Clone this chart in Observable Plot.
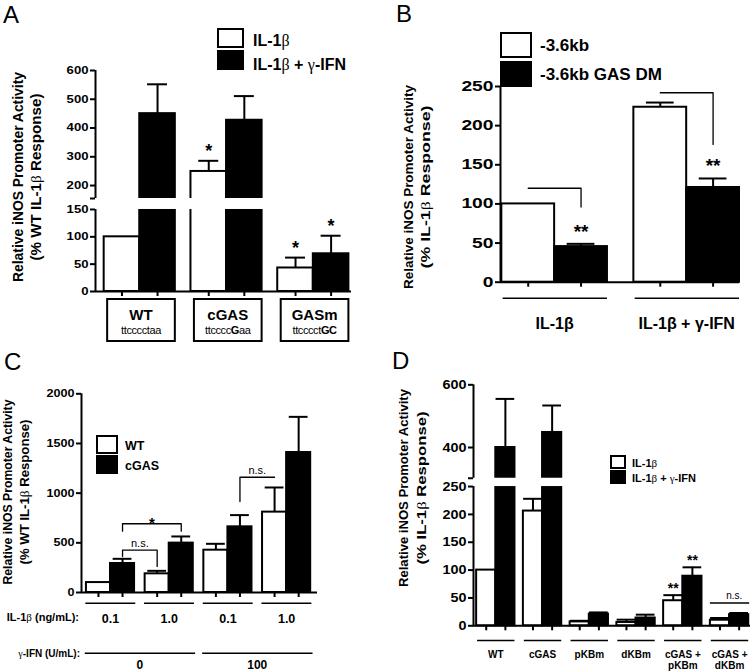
<!DOCTYPE html>
<html><head><meta charset="utf-8">
<script src="https://cdn.jsdelivr.net/npm/d3@7"></script>
<script src="https://cdn.jsdelivr.net/npm/@observablehq/plot@0.6"></script>
<style>
body{margin:0;background:#fff;}
#fig{position:relative;width:754px;height:672px;overflow:hidden;background:#fff;font-family:"Liberation Sans",Arial,sans-serif;}
.panel{position:absolute;}
</style></head><body><div id="fig"></div>
<script>
// ---------------- Panel A data ----------------
const aGroups = ["WT", "cGAS", "GASm"];
const aSeqs = [[["ttcccctaa", 0]], [["ttcccc", 0], ["G", 1], ["aa", 0]], [["ttcccct", 0], ["GC", 1]]];
const aSeries = ["IL-1β", "IL-1β + γ-IFN"];
const aIL = [100, 249, 43];
const aILErr = [0, 37, 19];
const aIFN = [450, 427, 69];
const aIFNErr = [102, 84, 33];
const aStars = [{g: 1, s: 0, label: "*"}, {g: 2, s: 0, label: "*"}, {g: 2, s: 1, label: "*"}];
const aTicks = [0, 50, 100, 150, 200, 300, 400, 500, 600];
const aBreak = {lo: 150, hi: 155};

// ---------------- Panel B data ----------------
const bGroups = ["IL-1β", "IL-1β + γ-IFN"];
const bSeries = ["-3.6kb", "-3.6kb GAS DM"];
const bWT = [100, 223.5];
const bWTErr = [0, 6];
const bDM = [45.5, 121];
const bDMErr = [3.5, 11.5];
const bStars = [{g: 0, s: 1, label: "**"}, {g: 1, s: 1, label: "**"}];
const bBrackets = [
  {a: [0, 0], b: [0, 1], y: 120, dropA: null, dropB: 96, label: ""},
  {a: [1, 0], b: [1, 1], y: 242, dropA: null, dropB: 176, label: ""}
];
const bTicks = [0, 50, 100, 150, 200, 250];

// ---------------- Panel C data ----------------
const cGroups = ["0.1", "1.0", "0.1", "1.0"];
const cIFNGroups = [{label: "0", from: 0, to: 1}, {label: "100", from: 2, to: 3}];
const cSeries = ["WT", "cGAS"];
const cWT = [100, 188, 426, 809];
const cWTErr = [0, 30, 64, 248];
const cGAS = [292, 497, 661, 1409];
const cGASErr = [47, 67, 118, 359];
const cBrackets = [
  {a: [0, 1], b: [1, 1], y: 692, dropA: 617, dropB: 617, label: "*"},
  {a: [0, 1], b: [1, 0], y: 426, dropA: 362, dropB: 262, label: "n.s."},
  {a: [2, 1], b: [3, 0], y: 1160, dropA: 916, dropB: null, label: "n.s."}
];
const cTicks = [0, 500, 1000, 1500, 2000];

// ---------------- Panel D data ----------------
const dGroups = ["WT", "cGAS", "pKBm", "dKBm", "cGAS +\npKBm", "cGAS +\ndKBm"];
const dSeries = ["IL-1β", "IL-1β + γ-IFN"];
const dIL = [100, 206, 7, 6, 45, 10];
const dILErr = [0, 22, 2, 5, 10, 4];
const dIFN = [400, 448, 21, 14, 89, 20];
const dIFNErr = [155, 86, 3, 6, 16, 3];
const dStars = [{g: 4, s: 0, label: "**"}, {g: 4, s: 1, label: "**"}];
const dNS = [{g: 5, y: 41, label: "n.s."}];
const dTicks = [0, 50, 100, 150, 200, 250, 400, 600];
const dBreak = {lo: 250, hi: 302};

// ---------------- helpers ----------------
const FONT = "'Liberation Sans', Arial, sans-serif";
const fig = document.getElementById("fig");

function txt(g, x, y, str, o = {}) {
  const t = g.append("text").attr("x", x).attr("y", y)
    .attr("font-family", FONT)
    .attr("font-size", o.size || 12).attr("font-weight", o.weight || "bold")
    .attr("text-anchor", o.anchor || "start").attr("fill", "black");
  if (o.rotate) t.attr("transform", `rotate(${o.rotate},${x},${y})`);
  if (o.spacing != null) t.attr("letter-spacing", o.spacing);
  let parts;
  if (Array.isArray(str)) parts = str.map(([p, b]) => [p, b ? "bold" : "normal"]);
  else parts = String(str).split(/([βγ])/).filter(p => p).map(p => [p, /[βγ]/.test(p) ? "greek" : null]);
  for (const [p, kind] of parts) {
    const ts = t.append("tspan").text(p);
    if (kind === "greek") ts.attr("font-family", "'Liberation Serif', serif").attr("font-weight", "normal");
    else if (kind) ts.attr("font-weight", kind);
  }
  if (o.len) t.attr("textLength", o.len).attr("lengthAdjust", "spacingAndGlyphs");
  return t;
}

function bracketLines(brs, xc, f) {
  const pts = [];
  brs.forEach((br, i) => {
    const xa = xc(...br.a), xb = xc(...br.b);
    if (br.dropA != null) pts.push({id: i, x: xa, y: f(br.dropA)});
    pts.push({id: i, x: xa, y: f(br.y)});
    pts.push({id: i, x: xb, y: f(br.y)});
    if (br.dropB != null) pts.push({id: i, x: xb, y: f(br.dropB)});
  });
  return pts;
}

function buildPanel(cfg) {
  const {groups, series, bw, cap} = cfg;
  // broken-axis mapping: lower segment 1:1, gap, then compressed upper segment
  const B = cfg.brk;
  const f = B ? (v => v <= B.lo ? v : B.lo + B.gapU + (v - B.hi) * B.k) : (v => v);
  const xc = (g, s) => g + (s - 0.5) * bw;
  const bars = [];
  series.forEach((se, s) => groups.forEach((name, g) => bars.push({
    g, s, v: se.values[g], e: se.errors[g], x1: g + (s - 1) * bw, x2: g + s * bw, xc: xc(g, s)
  })));
  const [x0, xEnd] = cfg.xDomain;
  const marks = [];
  series.forEach((se, s) => marks.push(Plot.rectY(bars.filter(d => d.s === s), {
    x1: "x1", x2: "x2", y1: 0, y2: d => f(d.v), fill: se.fill, stroke: "black", strokeWidth: 2
  })));
  const eb = bars.filter(d => d.e > 0);
  marks.push(Plot.ruleX(eb, {x: "xc", y1: d => f(d.v), y2: d => f(d.v + d.e), strokeWidth: 2}));
  marks.push(Plot.ruleY(eb, {y: d => f(d.v + d.e), x1: d => d.xc - cap, x2: d => d.xc + cap, strokeWidth: 2}));
  marks.push(Plot.ruleX([x0], {y1: 0, y2: f(cfg.yTop), strokeWidth: 2}));
  if (B) marks.push(Plot.rect([B], {x1: x0, x2: xEnd, y1: d => f(d.lo), y2: d => d.lo + d.gapU, fill: "white", insetLeft: -5}));
  marks.push(Plot.ruleY([0], {strokeWidth: 2}));
  const allTicks = cfg.yTicks.concat(B ? [B.hi] : []);
  marks.push(Plot.axisY({ticks: allTicks.map(f), tickSize: 5, tickPadding: 2,
    tickFormat: d => {
      const t = allTicks.find(t => Math.abs(f(t) - d) < 1e-6);
      return cfg.yTicks.includes(t) ? String(t) : "";
    },
    fontSize: cfg.tickFont, fontWeight: "bold", strokeWidth: 2, label: null}));
  marks.push(Plot.axisX({ticks: bars.map(d => d.xc), tickSize: 5, tickFormat: () => "", strokeWidth: 2, label: null}));
  if (cfg.ul) marks.push(Plot.ruleY(groups.map((n, g) => g), {
    y: 0, x1: g => g - cfg.ul[0], x2: g => g + cfg.ul[1], dy: cfg.ul[2], strokeWidth: 1.5
  }));
  if (cfg.groupLabel) marks.push(Plot.text(groups.map((n, g) => ({g, n})), {
    x: "g", y: 0, text: "n", dy: cfg.groupLabel.dy, fontSize: cfg.groupLabel.size, fontWeight: "bold",
    lineAnchor: cfg.groupLabel.anchor || "bottom", lineHeight: cfg.groupLabel.lh || 1.2, textAnchor: "middle"
  }));
  if (cfg.stars) marks.push(Plot.text(cfg.stars.map(st => {
    const b = bars.find(d => d.g === st.g && d.s === st.s);
    return {x: b.xc, y: f(b.v + b.e), label: st.label};
  }), {x: "x", y: "y", text: "label", dy: cfg.starDy, fontSize: cfg.starSize, fontWeight: "bold", lineAnchor: "bottom"}));
  if (cfg.brackets) {
    marks.push(Plot.line(bracketLines(cfg.brackets, xc, f), {x: "x", y: "y", z: "id", strokeWidth: 1.3}));
    const lab = cfg.brackets.map(br => ({x: (xc(...br.a) + xc(...br.b)) / 2, y: f(br.y), label: br.label}));
    marks.push(Plot.text(lab.filter(d => d.label === "*"), {x: "x", y: "y", text: "label", dy: 4, fontSize: 15, fontWeight: "bold", lineAnchor: "bottom"}));
    marks.push(Plot.text(lab.filter(d => d.label === "n.s."), {x: "x", y: "y", text: "label", dy: -3, fontSize: 11, lineAnchor: "bottom"}));
  }
  if (cfg.extra) marks.push(...cfg.extra(f));
  const svg = Plot.plot({
    width: cfg.width, height: cfg.height,
    marginLeft: cfg.xRange[0], marginRight: cfg.width - cfg.xRange[1],
    marginTop: cfg.yRange[1], marginBottom: cfg.height - cfg.yRange[0],
    x: {domain: cfg.xDomain, range: cfg.xRange},
    y: {domain: [0, f(cfg.yTop)], range: cfg.yRange},
    style: {fontFamily: FONT, fontSize: "10px", background: "transparent", overflow: "visible", color: "black"},
    marks
  });
  d3.select(svg).selectAll('g[aria-label="y-axis tick label"] text').each(function () {
    const s = this.textContent;
    if (!s) return;
    this.setAttribute("textLength", s.length * cfg.digitW);
    this.setAttribute("lengthAdjust", "spacingAndGlyphs");
  });
  const div = document.createElement("div");
  div.className = "panel";
  div.style.left = cfg.left + "px";
  div.style.top = cfg.top + "px";
  div.appendChild(svg);
  fig.appendChild(div);
  const ov = d3.select(svg).append("g");
  return {svg, ov, x: svg.scale("x"), y: svg.scale("y")};
}

function legend(ov, items, o) {
  items.forEach((it, i) => {
    ov.append("rect").attr("x", o.x).attr("y", o.ys[i]).attr("width", o.w).attr("height", o.h)
      .attr("fill", it.fill).attr("stroke", "black").attr("stroke-width", 2);
    txt(ov, o.tx, o.bl[i], it.label, {size: o.size});
  });
}

// ---------------- Panel C ----------------
{
  const P = buildPanel({
    left: 0, top: 336, width: 377, height: 336,
    groups: cGroups, bw: 0.41, cap: 0.16,
    series: [{values: cWT, errors: cWTErr, fill: "white"}, {values: cGAS, errors: cGASErr, fill: "black"}],
    xDomain: [-0.494, 3.526], xRange: [81, 317],
    yRange: [256, 57.3], yTop: 2000,
    yTicks: cTicks, tickFont: 10.5, digitW: 7,
    ul: [0.42, 0.43, 10.7],
    groupLabel: {dy: 30, size: 12.5},
    brackets: cBrackets,
    extra: () => [
      Plot.ruleY(cIFNGroups, {y: 0, x1: d => d.from - 0.43, x2: d => d.to + 0.45, dy: 60.7, strokeWidth: 1.5}),
      Plot.text(cIFNGroups, {x: d => (d.from + d.to) / 2, y: 0, text: "label", dy: 76, fontSize: 12, fontWeight: "bold", lineAnchor: "bottom"})
    ]
  });
  txt(P.ov, 4, 34, "C", {size: 24, weight: "normal"});
  txt(P.ov, 12, 156, "Relative iNOS Promoter Activity", {size: 12, rotate: -90, anchor: "middle", len: 185});
  txt(P.ov, 29, 156, "(% WT IL-1β Response)", {size: 12, rotate: -90, anchor: "middle", len: 145});
  legend(P.ov, [{label: cSeries[0], fill: "white"}, {label: cSeries[1], fill: "black"}],
    {x: 97, ys: [100, 120], w: 20, h: 17, tx: 125, bl: [114, 134], size: 12.5});
  txt(P.ov, 79, 285, "IL-1β (ng/mL):", {size: 11, anchor: "end"});
  txt(P.ov, 80, 320.5, "γ-IFN (U/mL):", {size: 10, anchor: "end"});
}

// ---------------- Panel D ----------------
{
  const P = buildPanel({
    left: 377, top: 336, width: 377, height: 336,
    groups: dGroups, bw: 0.41, cap: 0.2,
    series: [{values: dIL, errors: dILErr, fill: "white"}, {values: dIFN, errors: dIFNErr, fill: "black"}],
    xDomain: [-0.477, 5.448], xRange: [96, 373],
    yRange: [289.3, 48.3], yTop: 600,
    brk: {...dBreak, gapU: 14.9, k: 0.563},
    yTicks: dTicks, tickFont: 13, digitW: 8,
    ul: [0.39, 0.41, 14.7],
    groupLabel: {dy: 24.5, size: 10, anchor: "top", lh: 1.1},
    stars: dStars, starDy: -2, starSize: 14,
    extra: f => [
      Plot.ruleY(dNS, {y: d => f(d.y), x1: d => d.g - 0.41, x2: d => d.g + 0.43, strokeWidth: 1.5}),
      Plot.text(dNS, {x: d => d.g + 0.1, y: d => f(d.y), text: "label", dy: -4, fontSize: 10, lineAnchor: "bottom"})
    ]
  });
  txt(P.ov, 15, 33, "D", {size: 24, weight: "normal"});
  txt(P.ov, 31, 152, "Relative iNOS Promoter Activity", {size: 13, rotate: -90, anchor: "middle", len: 198});
  txt(P.ov, 49, 152, "(% IL-1β Response)", {size: 13, rotate: -90, anchor: "middle", len: 153});
  legend(P.ov, [{label: dSeries[0], fill: "white"}, {label: dSeries[1], fill: "black"}],
    {x: 234, ys: [120, 135], w: 14, h: 12, tx: 255, bl: [131, 146], size: 11});
}

// ---------------- Panel B ----------------
{
  const P = buildPanel({
    left: 377, top: 0, width: 377, height: 336,
    groups: bGroups, bw: 0.40, cap: 0.105,
    series: [{values: bWT, errors: bWTErr, fill: "white"}, {values: bDM, errors: bDMErr, fill: "black"}],
    xDomain: [-0.41, 1.40], xRange: [123, 362],
    yRange: [281.7, 86], yTop: 250,
    yTicks: bTicks, tickFont: 14, digitW: 10.7,
    ul: [0.39, 0.40, 16],
    groupLabel: {dy: 46.3, size: 16},
    stars: bStars, starDy: -6, starSize: 19,
    brackets: bBrackets
  });
  txt(P.ov, 19, 22, "B", {size: 24, weight: "normal"});
  txt(P.ov, 36, 187, "Relative iNOS Promoter Activity", {size: 13.5, rotate: -90, anchor: "middle", len: 204});
  txt(P.ov, 53, 187, "(% IL-1β Response)", {size: 13.5, rotate: -90, anchor: "middle", len: 163});
  legend(P.ov, [{label: bSeries[0], fill: "white"}, {label: bSeries[1], fill: "black"}],
    {x: 124, ys: [33, 62], w: 30, h: 24, tx: 163, bl: [51, 80], size: 17});
}

// ---------------- Panel A ----------------
{
  const P = buildPanel({
    left: 0, top: 0, width: 377, height: 345,
    groups: aGroups, bw: 0.41, cap: 0.115,
    series: [{values: aIL, errors: aILErr, fill: "white"}, {values: aIFN, errors: aIFNErr, fill: "black"}],
    xDomain: [-0.51, 2.44], xRange: [95, 351],
    yRange: [291, 70], yTop: 600,
    brk: {...aBreak, gapU: 20.1, k: 0.526},
    yTicks: aTicks, tickFont: 10.5, digitW: 7.3,
    stars: aStars, starDy: -4, starSize: 18
  });
  txt(P.ov, 3, 23, "A", {size: 24, weight: "normal"});
  txt(P.ov, 23, 177, "Relative iNOS Promoter Activity", {size: 14, rotate: -90, anchor: "middle", len: 210});
  txt(P.ov, 41, 177, "(% WT IL-1β Response)", {size: 14, rotate: -90, anchor: "middle", len: 167});
  legend(P.ov, [{label: aSeries[0], fill: "white"}, {label: aSeries[1], fill: "black"}],
    {x: 218, ys: [29, 51], w: 25, h: 18, tx: 253, bl: [46, 70], size: 16});
  aGroups.forEach((name, g) => {
    const xl = P.x.apply(g - 0.37), xr = P.x.apply(g + 0.41);
    P.ov.append("rect").attr("x", xl).attr("y", 299).attr("width", xr - xl).attr("height", 42)
      .attr("fill", "white").attr("stroke", "black").attr("stroke-width", 2);
    txt(P.ov, (xl + xr) / 2, 320, name, {size: 15, anchor: "middle"});
    txt(P.ov, (xl + xr) / 2, 334, aSeqs[g], {size: 11, anchor: "middle", weight: "normal", spacing: -0.4});
  });
}
</script></body></html>
